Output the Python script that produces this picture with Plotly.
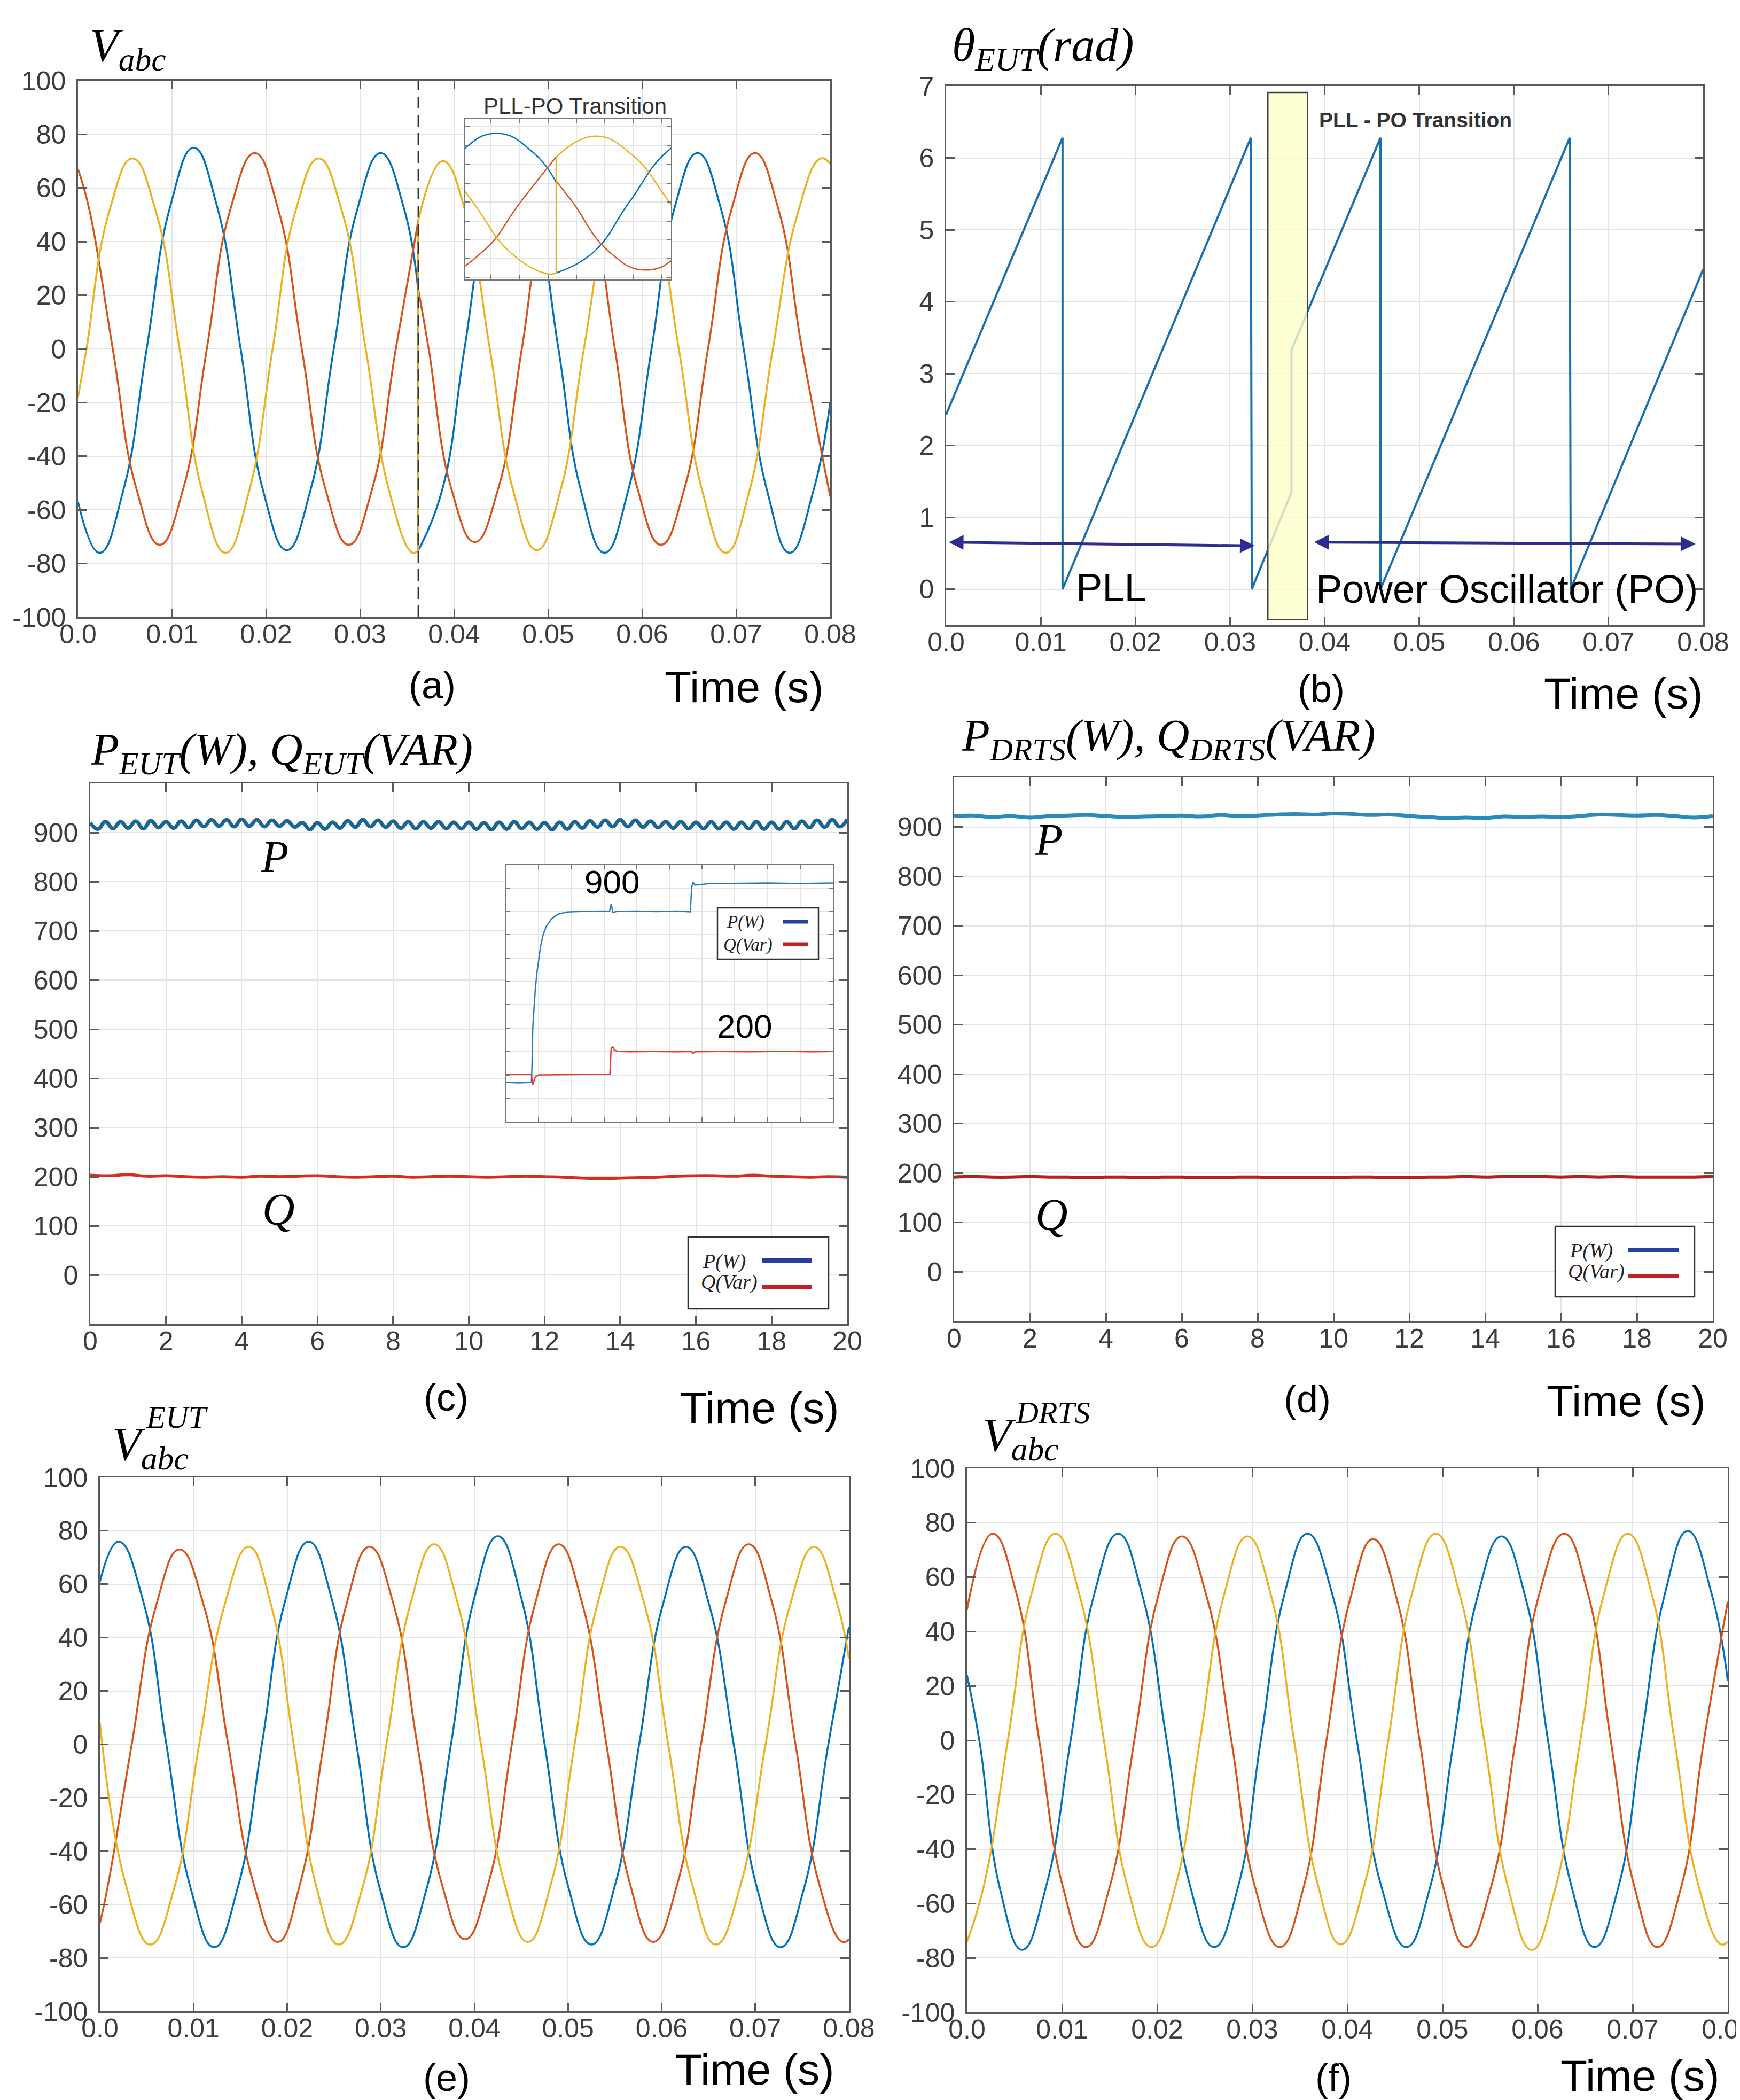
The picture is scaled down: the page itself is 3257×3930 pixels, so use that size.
import numpy as np
import plotly.graph_objects as go

W, H = 3257, 3930


def px(x):
    return x / W


def py(y):
    return 1 - y / H


def dom(x0, y0, x1, y1):
    return [x0 / W, x1 / W], [1 - y1 / H, 1 - y0 / H]


# ---------------- tick labels ----------------
T_TICKVALS = [0.0, 0.01, 0.02, 0.03, 0.04, 0.05, 0.06, 0.07, 0.08]
T_TICKTEXT = ["0.0", "0.01", "0.02", "0.03", "0.04", "0.05", "0.06", "0.07", "0.08"]
V_TICKVALS = [-100, -80, -60, -40, -20, 0, 20, 40, 60, 80, 100]
V_TICKTEXT = ["-100", "-80", "-60", "-40", "-20", "0", "20", "40", "60", "80", "100"]
THETA_TICKVALS = [0, 1, 2, 3, 4, 5, 6, 7]
PQ_TICKVALS = [0, 100, 200, 300, 400, 500, 600, 700, 800, 900]
S_TICKVALS = [0, 2, 4, 6, 8, 10, 12, 14, 16, 18, 20]

T_SWITCH = 0.0362  # PLL -> PO transition instant in (a)

# ---------------- (a) V_abc with PLL-PO transition ----------------
a_blue_pre_t = [0, 0.0023, 0.0048, 0.0073, 0.0098, 0.0123, 0.0148, 0.0173, 0.0197, 0.0222, 0.0247, 0.0272, 0.0297, 0.0322, 0.0347, 0.0362]
a_blue_pre_v = [-57, -76, -53, 0, 53, 75, 53, 0, -53, -75, -53, 0, 52, 73, 52, 21]
a_blue_post_t = [0.0362, 0.0387, 0.0411, 0.0436, 0.0461, 0.0486, 0.0511, 0.0535, 0.0560, 0.0585, 0.0610, 0.0634, 0.0659, 0.0684, 0.0708, 0.0733, 0.0757, 0.0782, 0.0800]
a_blue_post_v = [-75, -53, 0, 53, 75, 53, 0, -53, -76, -53, 0, 52, 73, 52, 0, -53, -76, -53, -20]

a_red_pre_t = [0, 0.0012, 0.0037, 0.0062, 0.0087, 0.0112, 0.0137, 0.0162, 0.0188, 0.0213, 0.0238, 0.0263, 0.0288, 0.0313, 0.0338, 0.0362]
a_red_pre_v = [67, 52, 0, -52, -73, -52, 0, 52, 73, 52, 0, -52, -73, -52, 0, 48]
a_red_post_t = [0.0362, 0.0373, 0.0397, 0.0422, 0.0447, 0.0472, 0.0496, 0.0521, 0.0546, 0.0571, 0.0595, 0.0620, 0.0645, 0.0670, 0.0695, 0.0720, 0.0745, 0.0770, 0.0800]
a_red_post_v = [22, 0, -52, -72, -52, 0, 52, 73, 52, 0, -52, -73, -52, 0, 52, 73, 52, 0, -55]

a_yel_pre_t = [0, 0.0009, 0.0033, 0.0058, 0.0083, 0.0108, 0.0132, 0.0157, 0.0182, 0.0207, 0.0231, 0.0256, 0.0281, 0.0306, 0.0331, 0.0356, 0.0362]
a_yel_pre_v = [-18, 0, 51, 71, 51, 0, -53, -76, -53, 0, 51, 71, 51, 0, -53, -76, -75]
a_yel_post_t = [0.0362, 0.0388, 0.0413, 0.0438, 0.0463, 0.0488, 0.0513, 0.0538, 0.0564, 0.0589, 0.0614, 0.0639, 0.0664, 0.0689, 0.0714, 0.0739, 0.0765, 0.0790, 0.0800]
a_yel_post_v = [48, 70, 50, 0, -53, -75, -53, 0, 50, 71, 50, 0, -53, -76, -53, 0, 50, 71, 69]

# ---------------- (b) theta_EUT ----------------
theta_t = [0, 0.0123, 0.0123, 0.0322, 0.0323, 0.0365, 0.0365, 0.0459, 0.0459, 0.0659, 0.0660, 0.0800]
theta_v = [2.43, 6.28, 0, 6.28, 0, 1.35, 3.33, 6.28, 0, 6.28, 0, 4.45]
TRANS_BOX_T = [0.0340, 0.0382]
TRANS_BOX_Y = [-0.42, 6.91]
PLL_ARROW = [(0.0002, 0.655), (0.0326, 0.605)]
PO_ARROW = [(0.0388, 0.655), (0.0792, 0.630)]

# ---------------- (c) P_EUT, Q_EUT over 20 s ----------------
P_c = [920, 907, 922, 908, 922, 909, 923, 908, 924, 910,
       922, 909, 923, 910, 925, 912, 926, 913, 926, 912,
       927, 913, 926, 912, 925, 913, 924, 911, 920, 906,
       920, 907, 921, 909, 924, 911, 926, 912, 925, 911,
       923, 909, 922, 908, 922, 909, 922, 908, 921, 908,
       921, 907, 920, 906, 921, 907, 922, 908, 921, 907,
       920, 906, 921, 907, 922, 909, 924, 911, 925, 912,
       926, 912, 925, 911, 923, 910, 922, 909, 922, 908,
       921, 908, 922, 908, 921, 907, 921, 908, 922, 907,
       921, 907, 922, 908, 923, 910, 925, 911, 926, 912,
       927]
Q_c = [203, 202, 204, 201, 202, 200, 199, 200, 199, 201,
       200, 201, 202, 200, 199, 200, 201, 199, 200, 201,
       200, 199, 200, 201, 200, 199, 197, 196, 197, 198,
       199, 201, 202, 202, 201, 203, 201, 200, 199, 200,
       199]
t_Pc = np.linspace(0, 20, len(P_c))
t_Qc = np.linspace(0, 20, len(Q_c))

# inset of (c): step responses
ins_P_t = [0, 0.4, 0.78, 0.80, 0.82, 0.86, 0.90, 0.95, 1.0, 1.06, 1.13, 1.23, 1.40, 1.60, 1.88, 2.4, 3.0, 3.17, 3.22, 3.27, 3.4, 4.0, 4.6, 5.2, 5.64, 5.68, 5.72, 5.78, 6.2, 7.0, 8.0, 9.0, 10.0]
ins_P_v = [68, 66, 68, 150, 300, 400, 470, 540, 590, 650, 695, 735, 768, 788, 797, 800, 801, 800, 832, 795, 800, 801, 799, 801, 798, 900, 925, 912, 918, 920, 921, 919, 921]
ins_Q_t = [0, 0.5, 0.78, 0.82, 0.9, 1.0, 1.5, 2.2, 2.8, 3.18, 3.22, 3.27, 3.32, 3.45, 3.8, 4.5, 5.2, 5.68, 5.72, 5.78, 6.5, 7.5, 8.5, 9.3, 10.0]
ins_Q_v = [102, 101, 102, 58, 92, 100, 101, 102, 103, 103, 215, 220, 205, 200, 199, 200, 199, 200, 192, 199, 200, 199, 201, 199, 200]

# ---------------- (d) P_DRTS, Q_DRTS ----------------
P_d = [922, 923, 920, 922, 919, 922, 923, 924, 922, 920, 921, 922, 923, 921, 924, 922, 923, 925, 926, 925,
       927, 926, 924, 925, 922, 920, 918, 919, 918, 921, 920, 921, 920, 922, 925, 924, 923, 924, 922, 919, 922]
Q_d = [192, 193, 192, 192, 193, 192, 192, 191, 192, 192, 191, 192, 192, 191, 191, 192, 192, 191, 191, 191,
       191, 192, 192, 191, 191, 192, 192, 193, 192, 193, 193, 193, 192, 193, 192, 193, 192, 192, 192, 192, 193]
t_Pd = np.linspace(0, 20, len(P_d))
t_Qd = np.linspace(0, 20, len(Q_d))

# ---------------- (e) V_abc^EUT ----------------
e_blue_t = [0, 0.0020, 0.0046, 0.0071, 0.0097, 0.0122, 0.0147, 0.0173, 0.0198, 0.0223, 0.0248, 0.0274, 0.0299, 0.0324, 0.0349, 0.0375, 0.0400, 0.0425, 0.0450, 0.0475, 0.0500, 0.0525, 0.0550, 0.0576, 0.0601, 0.0626, 0.0651, 0.0677, 0.0702, 0.0727, 0.0752, 0.0778, 0.0800]
e_blue_v = [61, 76, 54, 0, -54, -76, -54, 0, 54, 76, 54, 0, -54, -76, -54, 0, 55, 78, 55, 0, -53, -75, -53, 0, 52, 74, 52, 0, -54, -76, -54, 0, 44]
e_red_t = [0, 0.0009, 0.0034, 0.0060, 0.0085, 0.0111, 0.0137, 0.0164, 0.0190, 0.0214, 0.0239, 0.0263, 0.0288, 0.0314, 0.0339, 0.0365, 0.0390, 0.0415, 0.0440, 0.0465, 0.0490, 0.0515, 0.0541, 0.0566, 0.0591, 0.0617, 0.0642, 0.0668, 0.0693, 0.0718, 0.0743, 0.0768, 0.0793, 0.0800]
e_red_v = [-67, -52, 0, 52, 73, 52, 0, -52, -74, -52, 0, 52, 74, 52, 0, -52, -73, -52, 0, 53, 75, 53, 0, -52, -74, -52, 0, 53, 75, 53, 0, -52, -74, -73]
e_yel_t = [0, 0.0028, 0.0054, 0.0080, 0.0106, 0.0133, 0.0159, 0.0183, 0.0207, 0.0231, 0.0255, 0.0281, 0.0306, 0.0332, 0.0357, 0.0382, 0.0407, 0.0432, 0.0457, 0.0482, 0.0507, 0.0531, 0.0556, 0.0582, 0.0607, 0.0633, 0.0658, 0.0684, 0.0711, 0.0737, 0.0763, 0.0788, 0.0800]
e_yel_v = [8, -53, -75, -53, 0, 52, 74, 52, 0, -53, -75, -53, 0, 53, 75, 53, 0, -52, -74, -52, 0, 52, 74, 52, 0, -53, -75, -53, 0, 52, 74, 52, 32]

# ---------------- (f) V_abc^DRTS ----------------
f_blue_t = [0, 0.0013, 0.0035, 0.0058, 0.0083, 0.0109, 0.0134, 0.0159, 0.0184, 0.0210, 0.0235, 0.0260, 0.0285, 0.0309, 0.0334, 0.0358, 0.0384, 0.0410, 0.0436, 0.0462, 0.0487, 0.0512, 0.0537, 0.0562, 0.0587, 0.0611, 0.0636, 0.0660, 0.0685, 0.0709, 0.0734, 0.0758, 0.0783, 0.0800]
f_blue_v = [24, 0, -55, -77, -54, 0, 54, 76, 54, 0, -54, -76, -54, 0, 54, 76, 54, 0, -54, -76, -54, 0, 53, 75, 53, 0, -54, -76, -54, 0, 54, 77, 54, 22]
f_red_t = [0, 0.0027, 0.0052, 0.0076, 0.0101, 0.0125, 0.0150, 0.0176, 0.0201, 0.0226, 0.0252, 0.0278, 0.0303, 0.0329, 0.0354, 0.0378, 0.0403, 0.0427, 0.0452, 0.0476, 0.0501, 0.0525, 0.0551, 0.0577, 0.0602, 0.0628, 0.0653, 0.0677, 0.0702, 0.0726, 0.0751, 0.0775, 0.0800]
f_red_v = [48, 76, 54, 0, -54, -76, -54, 0, 53, 75, 53, 0, -54, -76, -54, 0, 52, 74, 52, 0, -54, -76, -54, 0, 54, 76, 54, 0, -54, -76, -54, 0, 51]
f_yel_t = [0, 0.0018, 0.0043, 0.0068, 0.0093, 0.0118, 0.0144, 0.0169, 0.0194, 0.0219, 0.0245, 0.0270, 0.0295, 0.0320, 0.0344, 0.0369, 0.0393, 0.0418, 0.0443, 0.0468, 0.0493, 0.0518, 0.0544, 0.0569, 0.0594, 0.0619, 0.0645, 0.0670, 0.0695, 0.0720, 0.0744, 0.0769, 0.0793, 0.0800]
f_yel_v = [-74, -53, 0, 54, 76, 54, 0, -54, -76, -54, 0, 53, 75, 53, 0, -53, -75, -53, 0, 54, 76, 54, 0, -54, -77, -54, 0, 54, 76, 54, 0, -53, -75, -74]

# ---------------- styling ----------------
BLUE, RED, YELLOW = "#0072BD", "#D95319", "#EDB120"
SANS = "Liberation Sans, Arial, sans-serif"
SERIF = "Liberation Serif, Times New Roman, serif"

fig = go.Figure()


def line(x, y, color, xa, ya, width, shape="spline"):
    ln = dict(color=color, width=width, shape=shape)
    if shape == "spline":
        ln["smoothing"] = 1.3
    fig.add_trace(go.Scatter(x=x, y=y, mode="lines", line=ln, xaxis=xa, yaxis=ya,
                             showlegend=False, hoverinfo="skip"))


# (a) main + inset
a_series = [
    (a_blue_pre_t, a_blue_pre_v, a_blue_post_t, a_blue_post_v, BLUE),
    (a_red_pre_t, a_red_pre_v, a_red_post_t, a_red_post_v, RED),
    (a_yel_pre_t, a_yel_pre_v, a_yel_post_t, a_yel_post_v, YELLOW),
]
for xa, ya, w in (("x", "y", 3.5), ("x7", "y7", 2.5)):
    for pt, pv, qt, qv, c in a_series:
        line(pt, pv, c, xa, ya, w)
        line(qt, qv, c, xa, ya, w)
    for pt, pv, qt, qv, c in a_series:
        line([pt[-1], qt[0]], [pv[-1], qv[0]], c, xa, ya, w, shape="linear")

# (b)
line(theta_t, theta_v, "#1a6faf", "x2", "y2", 4, shape="linear")

# (c)
line(t_Pc, P_c, "#1d6496", "x3", "y3", 7)
line(t_Qc, Q_c, "#d92b1e", "x3", "y3", 5.5)
line(ins_P_t, ins_P_v, "#2b7bc0", "x8", "y8", 2.5, shape="linear")
line(ins_Q_t, ins_Q_v, "#e0402a", "x8", "y8", 2.5, shape="linear")

# (d)
line(t_Pd, P_d, "#2a8bbb", "x4", "y4", 7)
line(t_Qd, Q_d, "#b3201f", "x4", "y4", 6)

# (e)
line(e_blue_t, e_blue_v, BLUE, "x5", "y5", 3.5)
line(e_red_t, e_red_v, RED, "x5", "y5", 3.5)
line(e_yel_t, e_yel_v, YELLOW, "x5", "y5", 3.5)

# (f)
line(f_blue_t, f_blue_v, BLUE, "x6", "y6", 3.5)
line(f_red_t, f_red_v, RED, "x6", "y6", 3.5)
line(f_yel_t, f_yel_v, YELLOW, "x6", "y6", 3.5)


def axstyle(**kw):
    d = dict(showline=True, linecolor="#5a5a5a", linewidth=2.5, mirror="ticks",
             ticks="inside", ticklen=16, tickwidth=2.5, tickcolor="#5a5a5a",
             showgrid=True, gridcolor="#e4e4e4", gridwidth=2, zeroline=False,
             automargin=False,
             tickfont=dict(family=SANS, size=50, color="#3c3c3c"))
    d.update(kw)
    return d


def inset_style(**kw):
    d = dict(showline=True, linecolor="#777", linewidth=2, mirror="ticks",
             ticks="inside", ticklen=8, tickwidth=1.5, tickcolor="#777",
             showgrid=True, gridcolor="#e4e4e4", gridwidth=1.5, zeroline=False,
             showticklabels=False, automargin=False)
    d.update(kw)
    return d


boxes = {
    "a": dom(138, 143, 1546, 1147),
    "b": dom(1763, 153, 3180, 1162),
    "c": dom(161, 1458, 1578, 2470),
    "d": dom(1778, 1447, 3198, 2465),
    "e": dom(179, 2757, 1581, 3756),
    "f": dom(1802, 2740, 3226, 3758),
    "ia": dom(863, 215, 1248, 515),
    "ic": dom(939, 1610, 1551, 2091),
}

layout = dict(
    width=W, height=H, autosize=False,
    margin=dict(l=0, r=0, t=0, b=0, pad=0),
    paper_bgcolor="white", plot_bgcolor="white",
    font=dict(family=SANS, color="#222"),
    hovermode=False,
)

t_axis = dict(range=[0, 0.08], tickvals=T_TICKVALS, ticktext=T_TICKTEXT)
v_axis = dict(range=[-100, 100], tickvals=V_TICKVALS, ticktext=V_TICKTEXT)
pq_axis = dict(range=[-100, 1000], tickvals=PQ_TICKVALS)
s_axis = dict(range=[0, 20], tickvals=S_TICKVALS)

spec = [
    ("", "a", t_axis, v_axis),
    ("2", "b", t_axis, dict(range=[-0.5, 7], tickvals=THETA_TICKVALS)),
    ("3", "c", s_axis, pq_axis),
    ("4", "d", s_axis, pq_axis),
    ("5", "e", t_axis, v_axis),
    ("6", "f", t_axis, v_axis),
]
for n, key, xa, ya in spec:
    xd, yd = boxes[key]
    layout["xaxis" + n] = axstyle(domain=xd, anchor="y" + n, ticklabelstandoff=-14,
                                  ticklabeloverflow="allow", **xa)
    layout["yaxis" + n] = axstyle(domain=yd, anchor="x" + n, ticklabelstandoff=10, **ya)

xd, yd = boxes["ia"]
layout["xaxis7"] = inset_style(domain=xd, anchor="y7", range=[0.0301, 0.0439], tick0=0.03183, dtick=0.00191)
layout["yaxis7"] = inset_style(domain=yd, anchor="x7", range=[-82, 88], dtick=20)
xd, yd = boxes["ic"]
layout["xaxis8"] = inset_style(domain=xd, anchor="y8", range=[0, 10], dtick=1)
layout["yaxis8"] = inset_style(domain=yd, anchor="x8", range=[-100, 1000], dtick=100)

fig.update_layout(**layout)

# ---------------- shapes ----------------
shapes = [
    dict(type="line", xref="x", yref="y domain", x0=T_SWITCH, x1=T_SWITCH, y0=0, y1=1,
         line=dict(color="#333", width=3, dash="22px,12px"), layer="above"),
    dict(type="rect", xref="x2", yref="y2", x0=TRANS_BOX_T[0], x1=TRANS_BOX_T[1],
         y0=TRANS_BOX_Y[0], y1=TRANS_BOX_Y[1], fillcolor="rgba(255,255,200,0.78)",
         line=dict(color="#444", width=2.5), layer="above"),
]

annotations = []


def text(s, x, y, size, family=SANS, xanchor="center", yanchor="middle", color="black"):
    annotations.append(dict(text=s, x=px(x), y=py(y), xref="paper", yref="paper",
                            xanchor=xanchor, yanchor=yanchor, showarrow=False,
                            font=dict(family=family, size=size, color=color)))


def legend(x0, y0, x1, y1, p_text, q_text, lx0, lx1, yp, yq, size, lw):
    shapes.append(dict(type="rect", xref="paper", yref="paper", x0=px(x0), x1=px(x1),
                       y0=py(y1), y1=py(y0), fillcolor="white", line=dict(color="#333", width=2.5),
                       layer="above"))
    shapes.append(dict(type="line", xref="paper", yref="paper", x0=px(lx0), x1=px(lx1),
                       y0=py(yp[1]), y1=py(yp[1]), line=dict(color="#2440a0", width=lw), layer="above"))
    shapes.append(dict(type="line", xref="paper", yref="paper", x0=px(lx0), x1=px(lx1),
                       y0=py(yq[1]), y1=py(yq[1]), line=dict(color="#c0222a", width=lw), layer="above"))
    text("<i>P(W)</i>", p_text, yp[0], size, family=SERIF, xanchor="left", color="#222")
    text("<i>Q(Var)</i>", q_text, yq[0], size, family=SERIF, xanchor="left", color="#222")


legend(1280, 2307, 1543, 2441, 1305, 1302, 1418, 1512, (2352, 2351), (2391, 2400), 38, 8)
legend(2903, 2287, 3164, 2419, 2928, 2925, 3040, 3134, (2332, 2331), (2371, 2380), 38, 8)
legend(1335, 1691, 1524, 1787, 1350, 1344, 1457, 1505, (1717, 1717), (1760, 1759), 33, 7)

# titles
text("<i>V<sub>abc</sub></i>", 158, 83, 88, family=SERIF, xanchor="left")
text("<i>θ<sub>EUT</sub>(rad)</i>", 1772, 82, 88, family=SERIF, xanchor="left")
text("<i>P<sub>EUT</sub>(W), Q<sub>EUT</sub>(VAR)</i>", 160, 1400, 85, family=SERIF, xanchor="left")
text("<i>P<sub>DRTS</sub>(W), Q<sub>DRTS</sub>(VAR)</i>", 1790, 1375, 85, family=SERIF, xanchor="left")
text("<i>V<sub>abc</sub></i>", 200, 2700, 88, family=SERIF, xanchor="left")
text("<i>EUT</i>", 263, 2644, 59, family=SERIF, xanchor="left")
text("<i>V<sub>abc</sub></i>", 1829, 2683, 88, family=SERIF, xanchor="left")
text("<i>DRTS</i>", 1891, 2635, 58, family=SERIF, xanchor="left")

# panel letters and axis titles
for lbl, (x, y) in {"(a)": (801, 1274), "(b)": (2465, 1281), "(c)": (827, 2607),
                    "(d)": (2439, 2610), "(e)": (828, 3880), "(f)": (2488, 3880)}.items():
    text(lbl, x, y, 72)
for (x, y) in [(1385, 1277), (3031, 1289), (1414, 2626), (3036, 2613), (1405, 3864), (3062, 3876)]:
    text("Time (s)", x, y, 82)

# in-plot labels
text("PLL-PO Transition", 1068, 190, 42, color="#333")
text("<b>PLL - PO Transition</b>", 2641, 216, 39, color="#333")
text("PLL", 2072, 1092, 74)
text("Power Oscillator (PO)", 2812, 1095, 74)
text("<i>P</i>", 506, 1595, 84, family=SERIF)
text("<i>Q</i>", 513, 2255, 84, family=SERIF)
text("<i>P</i>", 1955, 1563, 84, family=SERIF)
text("<i>Q</i>", 1960, 2265, 84, family=SERIF)
text("900", 1137, 1642, 62)
text("200", 1385, 1912, 62)

# double-headed arrows in (b)
for (s, e) in (PLL_ARROW, PO_ARROW):
    annotations.append(dict(x=e[0], y=e[1], ax=s[0], ay=s[1], xref="x2", yref="y2",
                            axref="x2", ayref="y2", text="", showarrow=True,
                            arrowside="end+start", arrowhead=2, arrowsize=1.1,
                            arrowwidth=5, arrowcolor="#2e2d8f", standoff=0, startstandoff=0))

fig.update_layout(shapes=shapes, annotations=annotations)
fig.write_html("out.html")
